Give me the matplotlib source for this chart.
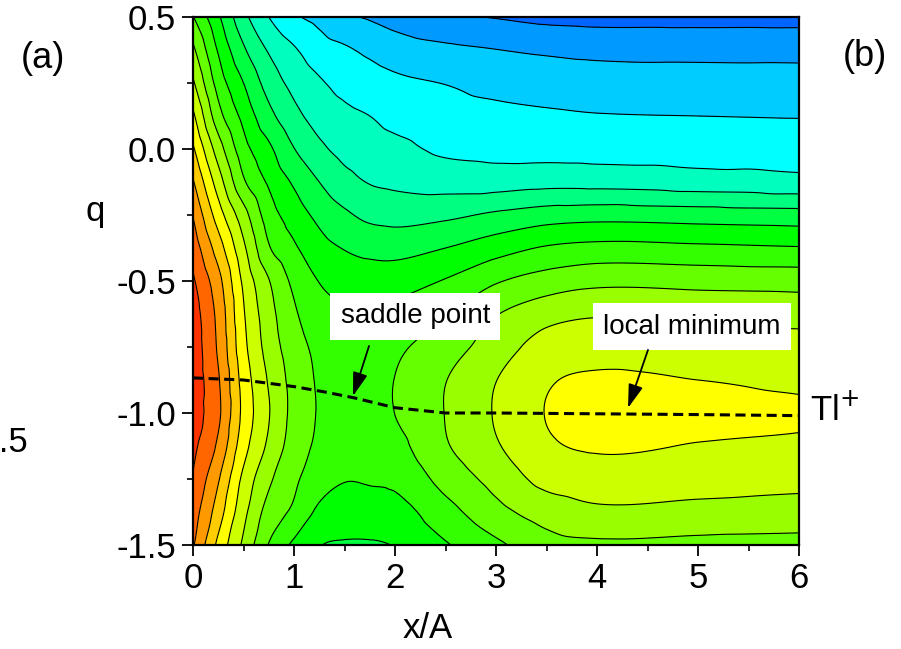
import numpy as np
import matplotlib.pyplot as plt
import matplotlib.tri as mtri
from matplotlib.colors import ListedColormap
from matplotlib.ticker import MultipleLocator

plt.rcParams['font.family'] = ['Liberation Sans', 'DejaVu Sans']

# grid of the free-energy surface (contour level units), rows from q = 0.5 down to q = -1.5
x_nodes = [0, 0.25, 0.5, 0.75, 1.0, 1.25, 1.5, 1.75, 2.0, 2.5, 3.0, 3.5, 4.0, 5.0, 6.0]
q_nodes = [0.5, 0.375, 0.25, 0.125, 0.0, -0.125, -0.25, -0.375, -0.5,
           -0.625, -0.75, -0.875, -1.0, -1.125, -1.25, -1.375, -1.5]
energy = [
    [7.95, 9.85, 11.7, 13.0, 13.85, 14.3, 14.85, 15.1, 15.4, 15.85, 16.05, 16.27, 16.35, 16.35, 16.35],
    [6.8, 9.1, 10.85, 12.1, 12.89, 13.53, 13.86, 14.2, 14.5, 14.79, 14.98, 15.15, 15.26, 15.3, 15.31],
    [5.85, 8.4, 10.0, 11.4, 12.3, 12.88, 13.3, 13.56, 13.79, 14.03, 14.3, 14.45, 14.55, 14.58, 14.6],
    [4.8, 7.6, 9.3, 10.7, 11.7, 12.4, 12.77, 13.0, 13.3, 13.6, 13.75, 13.86, 13.95, 14.0, 14.04],
    [3.85, 6.5, 8.6, 9.8, 10.97, 11.78, 12.3, 12.53, 12.74, 13.17, 13.3, 13.35, 13.4, 13.45, 13.48],
    [2.9, 5.5, 7.85, 9.15, 10.14, 11.0, 11.67, 12.05, 12.2, 12.4, 12.45, 12.32, 12.35, 12.52, 12.67],
    [2.05, 4.5, 6.6, 8.5, 9.48, 10.26, 10.83, 11.23, 11.35, 11.21, 10.83, 10.5, 10.38, 10.49, 10.6],
    [1.4, 3.5, 5.8, 7.9, 8.85, 9.63, 10.05, 10.3, 10.38, 10.0, 9.44, 8.9, 8.7, 8.8, 8.93],
    [0.85, 2.67, 5.2, 6.95, 8.23, 9.03, 9.37, 9.45, 9.4, 8.93, 8.1, 7.57, 7.27, 7.34, 7.4],
    [0.5, 2.3, 4.9, 6.6, 7.85, 8.6, 8.85, 8.9, 8.75, 8.1, 7.05, 6.38, 6.1, 6.25, 6.37],
    [0.4, 2.15, 4.7, 6.4, 7.55, 8.25, 8.55, 8.55, 8.2, 7.45, 6.53, 5.55, 5.41, 5.57, 5.62],
    [0.4, 1.9, 4.4, 6.1, 7.35, 8.12, 8.43, 8.4, 7.98, 7.03, 6.02, 5.11, 4.87, 5.0, 5.12],
    [0.5, 1.8, 4.27, 5.94, 7.3, 8.08, 8.43, 8.4, 7.99, 6.97, 5.92, 4.97, 4.73, 4.86, 4.94],
    [0.75, 2.2, 4.6, 6.2, 7.45, 8.2, 8.6, 8.55, 8.3, 7.1, 6.1, 5.16, 4.9, 5.04, 5.12],
    [1.1, 2.9, 5.25, 6.8, 7.8, 8.6, 8.95, 8.9, 8.77, 7.65, 6.65, 5.7, 5.47, 5.6, 5.71],
    [1.5, 3.5, 5.7, 7.4, 8.2, 9.2, 9.5, 9.45, 9.4, 8.36, 7.32, 6.57, 6.2, 6.3, 6.42],
    [1.9, 4.25, 6.2, 8.05, 9.2, 9.95, 10.1, 10.1, 9.95, 9.1, 8.2, 7.4, 7.2, 7.3, 7.35],
]

band_colors = ['#ff3300', '#ff6600', '#ff9900', '#ffcc00', '#ffff00', '#ccff00',
               '#99ff00', '#66ff00', '#33ff00', '#00ff00', '#00ff40', '#00ff80',
               '#00ffbf', '#00ffff', '#00ccff', '#0099ff', '#0066ff']

# minimum free-energy path
path_x = [0.0, 0.5, 1.0, 1.3, 1.6, 2.0, 2.5, 3.0, 4.0, 5.0, 6.0]
path_q = [-0.867, -0.875, -0.9, -0.92, -0.943, -0.98, -1.0, -1.0, -1.003, -1.006, -1.01]

# smooth the node table with a cubic interpolator on a triangulated grid
X, Q = np.meshgrid(x_nodes, q_nodes)
nq, nx = X.shape
triangles = []
for i in range(nq - 1):
    for j in range(nx - 1):
        a = i * nx + j
        triangles.append([a, a + 1, a + nx])
        triangles.append([a + 1, a + nx + 1, a + nx])
tri = mtri.Triangulation(X.ravel(), Q.ravel(), triangles)
interp = mtri.CubicTriInterpolator(tri, np.array(energy).ravel(), kind='geom')

xf = np.linspace(0, 6, 601)
qf = np.linspace(-1.5, 0.5, 401)
XF, QF = np.meshgrid(xf, qf)
ZF = np.ma.filled(interp(XF, QF), np.nan)

fig = plt.figure(figsize=(9.01, 6.49), dpi=100)
ax = fig.add_axes([193 / 901, 104 / 649, 606 / 901, 528 / 649])

levels = np.arange(0, len(band_colors) + 1)
ax.contourf(XF, QF, ZF, levels=levels, cmap=ListedColormap(band_colors))
ax.contour(XF, QF, ZF, levels=levels[1:-1], colors='k', linewidths=0.8)

ax.plot(path_x, path_q, color='k', lw=2.2, dashes=(3.3, 1.8))

box = dict(boxstyle='square,pad=0.38', fc='white', ec='none')
ax.text(2.2, -0.633, 'saddle point', fontsize=20, ha='center', va='center', bbox=box)
ax.text(4.94, -0.674, 'local minimum', fontsize=20, ha='center', va='center', bbox=box)
arrow = dict(arrowstyle='-|>,head_length=0.9,head_width=0.28', color='k', lw=1.3,
             shrinkA=0, shrinkB=0, mutation_scale=16)
ax.annotate('', xy=(1.584, -0.936), xytext=(1.743, -0.746), arrowprops=arrow)
ax.annotate('', xy=(4.307, -0.981), xytext=(4.505, -0.761), arrowprops=arrow)

ax.set_xlim(0, 6)
ax.set_ylim(-1.5, 0.5)
ax.set_xticks(range(7))
ax.set_yticks([0.5, 0.0, -0.5, -1.0, -1.5])
ax.set_yticklabels(['0.5', '0.0', '-0.5', '-1.0', '-1.5'])
ax.xaxis.set_minor_locator(MultipleLocator(0.5))
ax.yaxis.set_minor_locator(MultipleLocator(0.25))
ax.tick_params(which='major', direction='out', length=8, width=1.3, labelsize=25, pad=4)
ax.tick_params(which='minor', direction='out', length=4, width=1.2)
for s in ax.spines.values():
    s.set_linewidth(1.6)

fig.text(428 / 901, 1 - 628 / 649, 'x/A', fontsize=25, ha='center', va='center')
fig.text(95 / 901, 1 - 212 / 649, 'q', fontsize=25, ha='center', va='center')
ax.text(6.11, -0.99, 'Tl$^{+}$', fontsize=25, ha='left', va='center', clip_on=False)
fig.text(43 / 901, 1 - 59 / 649, '(a)', fontsize=26, ha='center', va='center')
fig.text(865 / 901, 1 - 57 / 649, '(b)', fontsize=26, ha='center', va='center')
fig.text(28 / 901, 1 - 443 / 649, '-1.5', fontsize=25, ha='right', va='center')

fig.savefig('out.png', dpi=100)
